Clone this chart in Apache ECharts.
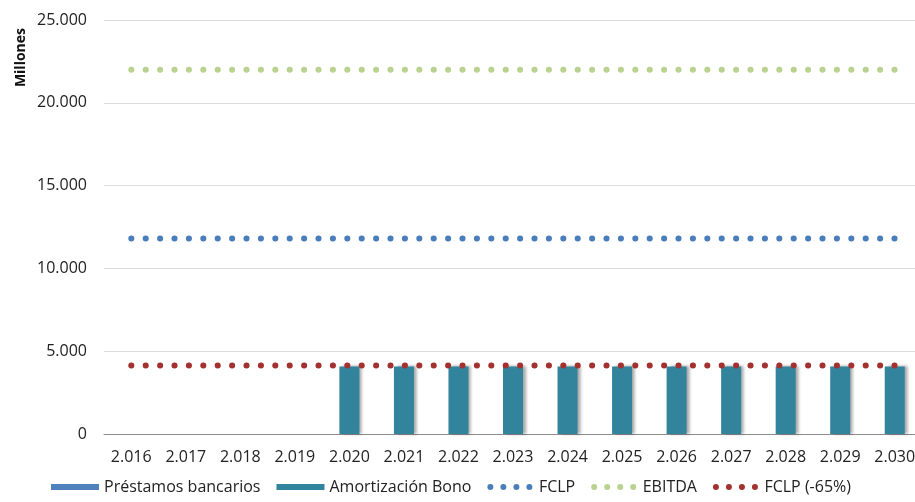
<!DOCTYPE html>
<html lang="es">
<head>
    <meta charset="UTF-8">
    <title>Millones</title>
    <script src="https://cdn.jsdelivr.net/npm/echarts@6/dist/echarts.min.js"></script>
</head>
<body style="margin:0;background:#fff;overflow:hidden">
<div class="main" style="width:922px;height:502px;"></div>
</body>
<script>
    // datos (millones)
    let years = ['2.016', '2.017', '2.018', '2.019', '2.020', '2.021', '2.022', '2.023', '2.024', '2.025', '2.026', '2.027', '2.028', '2.029', '2.030'];
    let prestamos = [0, 0, 0, 0, 0, 0, 0, 0, 0, 0, 0, 0, 0, 0, 0];
    let amortizacion = [0, 0, 0, 0, 4080, 4080, 4080, 4080, 4080, 4080, 4080, 4080, 4080, 4080, 4080];
    let fclp = [11800, 11800, 11800, 11800, 11800, 11800, 11800, 11800, 11800, 11800, 11800, 11800, 11800, 11800, 11800];
    let ebitda = [22000, 22000, 22000, 22000, 22000, 22000, 22000, 22000, 22000, 22000, 22000, 22000, 22000, 22000, 22000];
    let fclp65 = [4130, 4130, 4130, 4130, 4130, 4130, 4130, 4130, 4130, 4130, 4130, 4130, 4130, 4130, 4130];

    let font = '"Open Sans", sans-serif';
    // cuatro puntos para la leyenda de las series punteadas
    let dotsIcon = 'path://M0,3a3,3 0 1,0 6,0a3,3 0 1,0 -6,0z' +
        'M13,3a3,3 0 1,0 6,0a3,3 0 1,0 -6,0z' +
        'M26,3a3,3 0 1,0 6,0a3,3 0 1,0 -6,0z' +
        'M39,3a3,3 0 1,0 6,0a3,3 0 1,0 -6,0z';

    function dotted(name, data, color) {
        return {
            name: name,
            type: 'line',
            data: data,
            symbol: 'none',
            z: 5,
            lineStyle: {color: color, width: 6, type: [0.1, 14.3], cap: 'round'},
            itemStyle: {color: color}
        };
    }

    let myChart = echarts.init(document.querySelector('.main'));
    let option = {
        animation: false,
        backgroundColor: '#fff',
        grid: {left: 104, top: 20, right: 0, bottom: 68},
        legend: {
            left: 46,
            bottom: 2,
            itemWidth: 48,
            itemHeight: 6,
            itemGap: 16,
            textStyle: {fontFamily: font, fontSize: 16, color: '#222'},
            data: [
                {name: 'Préstamos bancarios', icon: 'rect'},
                {name: 'Amortización Bono', icon: 'rect', textStyle: {padding: [0, 14, 0, 0]}},
                {name: 'FCLP', icon: dotsIcon},
                {name: 'EBITDA', icon: dotsIcon, textStyle: {padding: [0, 3, 0, 0]}},
                {name: 'FCLP (-65%)', icon: dotsIcon}
            ]
        },
        xAxis: {
            type: 'category',
            data: years,
            axisLine: {lineStyle: {color: '#8c8c8c'}},
            axisTick: {length: 5, lineStyle: {color: '#8c8c8c'}},
            axisLabel: {fontFamily: font, fontSize: 16, color: '#222', margin: 15}
        },
        yAxis: {
            type: 'value',
            min: 0,
            max: 25000,
            interval: 5000,
            name: 'Millones',
            nameLocation: 'end',
            nameRotate: 90,
            nameGap: -8,
            nameTextStyle: {fontFamily: font, fontSize: 14, fontWeight: 'bold', color: '#111', align: 'right', verticalAlign: 'bottom', padding: [0, 0, 76, 0]},
            axisLine: {show: false},
            axisTick: {show: false},
            splitLine: {lineStyle: {color: '#dcdcdc'}},
            axisLabel: {
                fontFamily: font, fontSize: 16, color: '#222', margin: 17,
                formatter: function (v) {
                    return v.toString().replace(/\B(?=(\d{3})+(?!\d))/g, '.');
                }
            }
        },
        series: [
            {
                name: 'Préstamos bancarios', type: 'bar', stack: 'b', data: prestamos, barWidth: 20,
                itemStyle: {color: '#4f81bd'}
            },
            {
                name: 'Amortización Bono', type: 'bar', stack: 'b', data: amortizacion, barWidth: 20,
                itemStyle: {color: '#31849b', shadowColor: 'rgba(0,0,0,0.35)', shadowBlur: 3, shadowOffsetX: 3}
            },
            dotted('FCLP', fclp, '#4a7ebb'),
            dotted('EBITDA', ebitda, '#b9d28f'),
            dotted('FCLP (-65%)', fclp65, '#a3312f')
        ]
    };
    myChart.setOption(option);
</script>
</html>
